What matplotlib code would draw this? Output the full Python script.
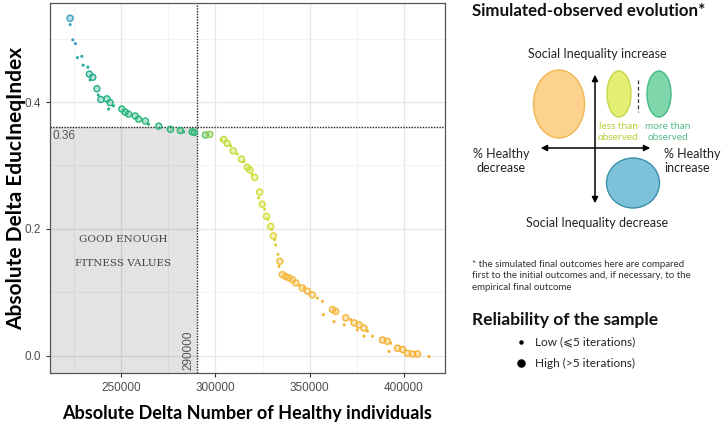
import numpy as np
import matplotlib
matplotlib.use("Agg")
import matplotlib.pyplot as plt
from matplotlib.colors import LinearSegmentedColormap, Normalize
from matplotlib.patches import Ellipse, Rectangle

# absolute delta number of healthy individuals vs absolute delta EducIneqIndex
healthy = [222870, 222870, 224300, 225700, 226750, 229100, 229800, 232300, 233100, 234900,
           233500, 237100, 237800, 239200, 242400, 244100, 243300, 245900, 250300, 252100,
           253900, 257400, 259200, 262800, 264500, 269900, 276100, 281400, 283100, 287600,
           288800, 294700, 297000, 303000, 304400, 306200, 308000, 309400, 311500, 313800,
           315100, 316900, 318300, 319500, 320800, 323400, 323000, 324800, 326100, 327100,
           327800, 329300, 329800, 330700, 331400, 331900, 333200, 334200, 333700, 335500,
           337200, 339000, 340800, 342600, 344300, 347000, 346100, 348800, 351400, 354100,
           356800, 357300, 362100, 363800, 362900, 369100, 368300, 371800, 373600, 376200,
           375300, 378800, 380600, 378800, 383300, 388600, 391200, 393000, 392100, 396600,
           399300, 401900, 404600, 407200, 413300]
ineq = [0.532, 0.522, 0.498, 0.492, 0.470, 0.472, 0.458, 0.455, 0.444, 0.439,
        0.435, 0.421, 0.411, 0.404, 0.405, 0.399, 0.389, 0.394, 0.389, 0.384,
        0.381, 0.378, 0.373, 0.370, 0.365, 0.362, 0.357, 0.355, 0.353, 0.353,
        0.352, 0.348, 0.349, 0.340, 0.341, 0.335, 0.331, 0.323, 0.318, 0.310,
        0.306, 0.297, 0.293, 0.286, 0.281, 0.258, 0.249, 0.239, 0.231, 0.220,
        0.215, 0.204, 0.199, 0.189, 0.183, 0.175, 0.160, 0.149, 0.141, 0.128,
        0.125, 0.123, 0.120, 0.115, 0.112, 0.107, 0.107, 0.102, 0.096, 0.091,
        0.086, 0.065, 0.073, 0.070, 0.054, 0.060, 0.049, 0.057, 0.052, 0.049,
        0.041, 0.044, 0.039, 0.031, 0.031, 0.025, 0.023, 0.020, 0.007, 0.012,
        0.010, 0.004, 0.003, 0.003, -0.001]
reliability = list("HLLLLLLLHH" "LHLHHHLLHH" "HHHHLHHHLH" "HHHLHHLHLH"
                   "LHHLHHLHLH" "LHLHLLLHLH" "HHHHLLHHHL" "LLHHLHLLHH"
                   "LHLLLHHLLH" "HHHHL")

x_thr, y_thr = 290000, 0.36
x_ticks = [250000, 300000, 350000, 400000]
y_ticks = [0.0, 0.2, 0.4]

W, H = 722, 422
fig = plt.figure(figsize=(W / 100, H / 100), dpi=100)
ax = fig.add_axes([50 / W, 1 - 373 / H, 395 / W, 370 / H])

xlo, xhi = 212200, 421800
ylo, yhi = -0.027, 0.556
ax.set_xlim(xlo, xhi)
ax.set_ylim(ylo, yhi)

# grid (ggplot theme_bw look)
ax.set_xticks(x_ticks)
ax.set_yticks(y_ticks)
ax.set_xticks([225000, 275000, 325000, 375000], minor=True)
ax.set_yticks([0.1, 0.3, 0.5], minor=True)
ax.grid(which="major", color="#e6e6e6", lw=0.9)
ax.grid(which="minor", color="#f1f1f1", lw=0.6)
ax.set_axisbelow(True)
ax.tick_params(which="minor", length=0)
ax.tick_params(which="major", length=3, width=0.8, color="#333333",
               labelsize=8.5, labelcolor="#4d4d4d")
for lab in ax.get_xticklabels() + ax.get_yticklabels():
    lab.set_family("Liberation Sans")
ax.set_yticklabels(["0.0", "0.2", "0.4"])
for s in ax.spines.values():
    s.set_color("#555555")
    s.set_linewidth(0.9)

# "good enough" zone
ax.add_patch(Rectangle((xlo, ylo), x_thr - xlo, y_thr - ylo, facecolor="black",
                       alpha=0.11, edgecolor="none", zorder=1))
ax.axvline(x_thr, color="#222222", lw=1.0, ls=(0, (1, 1)), zorder=2)
ax.axhline(y_thr, color="#222222", lw=1.0, ls=(0, (1, 1)), zorder=2)
ax.text(xlo + 1200, y_thr - 0.004, "0.36", ha="left", va="top", fontsize=8.5,
        color="#555555", family="Liberation Sans")
ax.text(x_thr - 1200, -0.022, "290000", rotation=90, ha="right", va="bottom",
        fontsize=8.5, color="#555555", family="Liberation Sans")
ax.text(251000, 0.184, "GOOD ENOUGH", ha="center", va="center", fontsize=7.5,
        color="#444444", family="DejaVu Serif")
ax.text(251000, 0.146, "FITNESS VALUES", ha="center", va="center", fontsize=7.5,
        color="#444444", family="DejaVu Serif")

# points, coloured along the gradient of healthy delta
cmap = LinearSegmentedColormap.from_list("evo", [
    (0.0, "#3f9fcc"), (0.07, "#27ad8f"), (0.16, "#25b47a"), (0.37, "#2bb672"),
    (0.41, "#bdda3a"), (0.56, "#d6de34"), (0.59, "#f3b83a"), (1.0, "#f5ae2e")])
norm = Normalize(220000, 415000)
hx = np.array(healthy)
iy = np.array(ineq)
rel = np.array(reliability)
cols = cmap(norm(hx))
lo = rel == "L"
hi = rel == "H"
ax.scatter(hx[lo], iy[lo], s=5, c=cols[lo], edgecolors="none", zorder=3)
fill = cols[hi].copy()
fill[:, 3] = 0.35
ax.scatter(hx[hi], iy[hi], s=19, facecolors=fill, edgecolors=cols[hi],
           linewidths=1.0, zorder=4)

ax.set_xlabel("Absolute Delta Number of Healthy individuals", fontsize=13,
              fontweight="bold", family="Lato", labelpad=8)
ax.set_ylabel("Absolute Delta EducIneqIndex", fontsize=15, fontweight="bold",
              family="Lato")
ax.yaxis.set_label_coords(-24 / 395, 0.5)

# right-hand legend panel drawn in pixel coordinates
lg = fig.add_axes([0, 0, 1, 1], facecolor="none")
lg.set_xlim(0, W)
lg.set_ylim(H, 0)
lg.axis("off")
fam = "Lato"
lg.text(472, 11, "Simulated-observed evolution*", fontsize=12.2, fontweight="bold",
        family=fam, ha="left", va="center", color="#111111")
lg.text(597, 54, "Social Inequality increase", fontsize=9, family=fam,
        ha="center", va="center", color="#222222")
lg.text(597, 223, "Social Inequality decrease", fontsize=9, family=fam,
        ha="center", va="center", color="#222222")
lg.text(501, 161, "% Healthy\ndecrease", fontsize=9, family=fam, ha="center",
        va="center", color="#222222", linespacing=1.3)
lg.text(664, 161, "% Healthy\nincrease", fontsize=9, family=fam, ha="left",
        va="center", color="#222222", linespacing=1.3)

lg.add_patch(Ellipse((559, 104), 51, 68, facecolor="#fdd28e", edgecolor="#f0b650", lw=1))
lg.add_patch(Ellipse((619, 94), 24, 46, facecolor="#e3ee72", edgecolor="#c4d748", lw=1))
lg.add_patch(Ellipse((659, 94), 24, 46, facecolor="#7fd6ab", edgecolor="#43b985", lw=1))
lg.add_patch(Ellipse((633, 183), 53, 50, facecolor="#7dc2d8", edgecolor="#3a8fae", lw=1))
lg.plot([638, 638], [80, 112], color="#333333", lw=0.9, ls=(0, (3, 2)))

lg.annotate("", xy=(595, 72), xytext=(595, 206),
            arrowprops=dict(arrowstyle="<|-|>", color="black", lw=1.1,
                            mutation_scale=9))
lg.annotate("", xy=(538, 148), xytext=(653, 148),
            arrowprops=dict(arrowstyle="<|-|>", color="black", lw=1.1,
                            mutation_scale=9))
lg.text(618, 132, "less than\nobserved", fontsize=7.2, family=fam, ha="center",
        va="center", color="#b3d136", linespacing=1.2)
lg.text(668, 132, "more than\nobserved", fontsize=7.2, family=fam, ha="center",
        va="center", color="#55bb8a", linespacing=1.2)

lg.text(472, 276, "* the simulated final outcomes here are compared\n"
        "first to the initial outcomes and, if necessary, to the\n"
        "empirical final outcome", fontsize=7, family=fam, ha="left",
        va="center", color="#333333", linespacing=1.35)

lg.text(472, 320, "Reliability of the sample", fontsize=12.5, fontweight="bold",
        family=fam, ha="left", va="center", color="#111111")
lg.scatter([521], [342], s=5, color="black")
lg.scatter([521], [363], s=26, color="black")
lg.text(535, 342, "Low (\u2a7d5 iterations)", fontsize=8.5, family=[fam, "DejaVu Sans"],
        ha="left", va="center", color="#222222")
lg.text(535, 363, "High (>5 iterations)", fontsize=8.5, family=fam,
        ha="left", va="center", color="#222222")

fig.savefig("out.png", dpi=100)
